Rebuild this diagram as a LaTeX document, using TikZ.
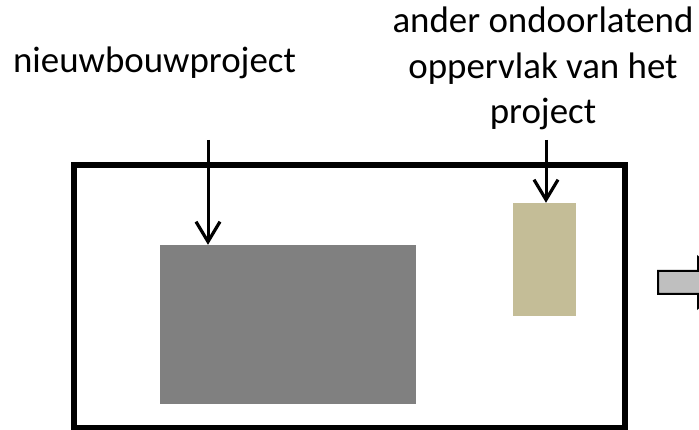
\documentclass[tikz,border=0pt]{standalone}
\usepackage{fontspec}
\setmainfont{Carlito}
\usetikzlibrary{arrows.meta}
\definecolor{plotgray}{HTML}{808080}
\definecolor{plottan}{HTML}{C4BD97}
\definecolor{blockgray}{HTML}{BFBFBF}
\tikzset{
  label text/.style={font=\fontsize{36.9}{45.5}\selectfont, inner sep=0pt, align=center},
  pointer/.style={line width=3pt, -{Straight Barb[length=20pt,width=24pt,line width=3.2pt]}},
  site/.style={line width=5.5pt},
}
\begin{document}
\begin{tikzpicture}[x=1pt,y=-1pt]
\useasboundingbox (0,0) rectangle (699,430);
% site boundary
\draw[site] (74,165) rectangle (625,428);
% building and other sealed surface
\node[fill=plotgray, inner sep=0pt, minimum width=256pt, minimum height=159pt] (build) at (288,324.5) {};
\node[fill=plottan, inner sep=0pt, minimum width=63pt, minimum height=113pt] (paved) at (544.5,259.5) {};
% labels (base anchor sits on the last line)
\node[label text, anchor=base] (lblbuild) at (154.5,73) {nieuwbouwproject};
\node[label text, anchor=base] (lblpaved) at (543,124) {ander ondoorlatend\\oppervlak van het\\project};
% pointers
\coordinate (p1) at (208,140);
\coordinate (p2) at (546,140);
\draw[pointer] (p1) -- (build.north -| p1);
\draw[pointer] (p2) -- (paved.north -| p2);
% block arrow leaving the site
\begin{scope}
\clip (0,0) rectangle (699,430);
\draw[fill=blockgray, line width=2pt] (658,271) -- (698,271) -- (698,257) -- (730,282.5) -- (698,308) -- (698,294) -- (658,294) -- cycle;
\end{scope}
\end{tikzpicture}
\end{document}
